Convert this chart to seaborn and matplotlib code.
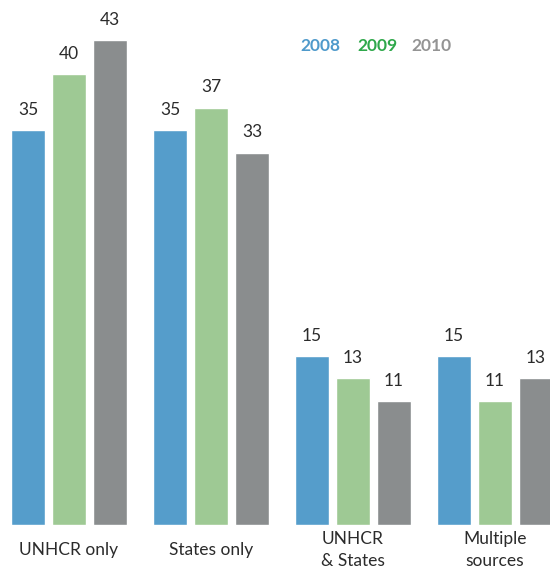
import matplotlib
matplotlib.use("Agg")
import matplotlib.pyplot as plt
import matplotlib.transforms as mtransforms
import seaborn as sns
import pandas as pd

categories = ["UNHCR only", "States only", "UNHCR\n& States", "Multiple\nsources"]
years = ["2008", "2009", "2010"]
values_2008 = [35, 35, 15, 15]
values_2009 = [40, 37, 13, 11]
values_2010 = [43, 33, 11, 13]

bar_colors = ["#559dcb", "#9ec994", "#8a8d8e"]
legend_colors = ["#4f9acb", "#2fa84b", "#949494"]

rows = []
for yr, vals in zip(years, [values_2008, values_2009, values_2010]):
    for c, v in zip(categories, vals):
        rows.append({"category": c, "year": yr, "value": v})
df = pd.DataFrame(rows)

sns.set_theme(style="white")
plt.rcParams["font.family"] = ["Lato", "DejaVu Sans"]

W, H = 550, 574
fig = plt.figure(figsize=(W / 100, H / 100), dpi=100)
ax = fig.add_axes([0, 49 / H, 1, 525 / H])

sns.barplot(data=df, x="category", y="value", hue="year", order=categories,
            hue_order=years, palette=bar_colors, width=0.866, gap=0.17,
            saturation=1, legend=False, ax=ax)

ax.set_xlim(-69 / 142, 481 / 142)
ax.set_ylim(0, 525 / 11.28)
for s in ax.spines.values():
    s.set_visible(False)
ax.set_xticks([])
ax.set_yticks([])
ax.set_xlabel("")
ax.set_ylabel("")

for cont in ax.containers:
    for bar in cont:
        h = bar.get_height()
        ax.annotate(f"{h:.0f}", (bar.get_x() + bar.get_width() / 2, h),
                    xytext=(0, 11), textcoords="offset points",
                    ha="center", va="baseline", fontsize=12.5, color="#2b2b2b")

trans = mtransforms.blended_transform_factory(ax.transData, fig.transFigure)
for i, c in enumerate(categories):
    ax.text(i, 1 - 550 / H, c, transform=trans, ha="center", va="center",
            fontsize=12.5, color="#2b2b2b", linespacing=1.4, clip_on=False)

xs = [300, 357, 411]
for yr, col, x in zip(years, legend_colors, xs):
    fig.text(x / W, 1 - 46 / H, yr, color=col, fontsize=12.5, fontweight="bold",
             ha="left", va="center")

fig.savefig("out.png", dpi=100)
